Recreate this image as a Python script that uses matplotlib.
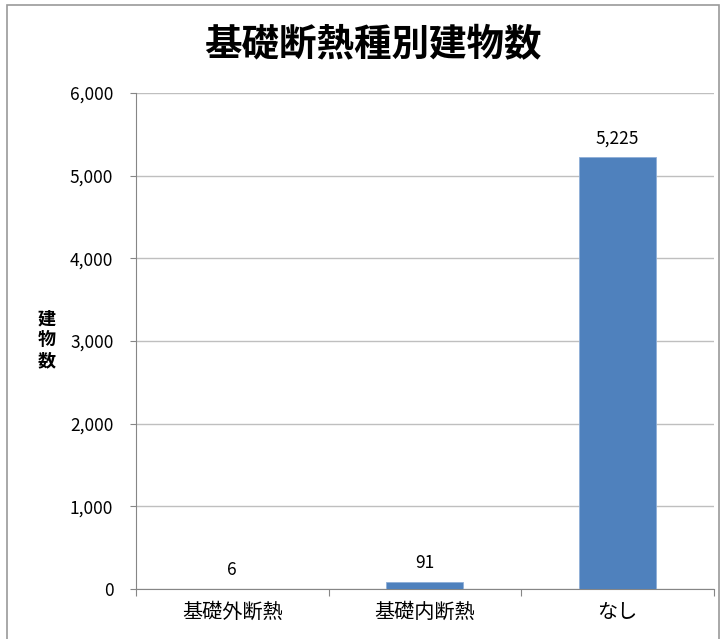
import matplotlib.pyplot as plt
import matplotlib.patches as patches
from matplotlib.ticker import FuncFormatter

plt.rcParams['font.family'] = ['Noto Sans CJK JP', 'DejaVu Sans']

# data
categories = ['基礎外断熱', '基礎内断熱', 'なし']
counts = [6, 91, 5225]
yticks = [0, 1000, 2000, 3000, 4000, 5000, 6000]

fig = plt.figure(figsize=(7.24, 6.39), dpi=100)
ax = fig.add_axes([0.1878, 0.0782, 0.7983, 0.7762])

bar_color = '#4F81BD'
x = range(len(categories))
ax.bar(x, counts, width=0.4, color=bar_color, edgecolor='#8FAFD8',
       linewidth=0.6, zorder=3)

# value labels
for i, v in enumerate(counts):
    ax.text(i, v + 120, f'{v:,}', ha='center', va='bottom', fontsize=12.5)

ax.set_xlim(-0.5, len(categories) - 0.5)
ax.set_ylim(0, 6000)
ax.set_yticks(yticks)
ax.yaxis.set_major_formatter(FuncFormatter(lambda v, p: f'{int(v):,}'))
ax.tick_params(axis='y', labelsize=12.5, length=4.3, color='#868686', pad=12)

# category ticks at boundaries, labels at centers
ax.set_xticks([i - 0.5 for i in range(len(categories) + 1)])
ax.set_xticklabels([])
ax.set_xticks(list(x), minor=True)
ax.set_xticklabels(categories, minor=True, fontsize=14.5)
ax.tick_params(axis='x', which='major', length=5, color='#868686')
ax.tick_params(axis='x', which='minor', length=0, pad=9)

ax.grid(axis='y', color='#BFBFBF', linewidth=1, zorder=0)
for s in ['top', 'right']:
    ax.spines[s].set_visible(False)
for s in ['left', 'bottom']:
    ax.spines[s].set_color('#868686')

# y label, stacked vertical
fig.text(0.065, 0.468, '建\n物\n数', ha='center', va='center', fontsize=13,
         fontweight='bold', linespacing=1.15)

fig.text(0.515, 0.93, '基礎断熱種別建物数', ha='center', va='center',
         fontsize=27, fontweight='bold')

# chart border
fig.patches.append(patches.Rectangle((0.0097, -0.02), 0.983, 1.012,
                                     transform=fig.transFigure, fill=False,
                                     edgecolor='#9A9A9A', linewidth=1.2))

fig.savefig('out.png', dpi=100)
